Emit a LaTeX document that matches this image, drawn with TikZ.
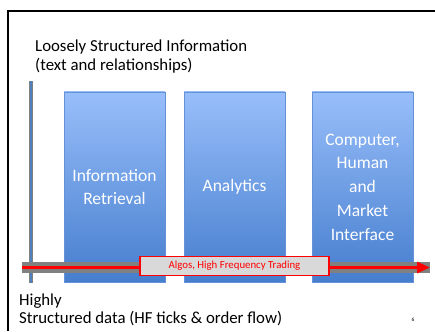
\documentclass[tikz,border=0pt]{standalone}
\usepackage{fontspec}
\setmainfont{Carlito}
\usetikzlibrary{arrows.meta}
\definecolor{boxtop}{RGB}{152,190,250}
\definecolor{boxbot}{RGB}{70,126,206}
\definecolor{boxline}{RGB}{100,145,215}
\definecolor{axisgray}{RGB}{128,128,128}
\definecolor{axisblue}{RGB}{79,129,189}
\definecolor{labelfill}{RGB}{217,217,217}
\definecolor{hfred}{RGB}{255,0,0}
\tikzset{
  areabox/.style={draw=boxline, line width=0.6pt, top color=boxtop, bottom color=boxbot,
    minimum width=101pt, minimum height=190pt, inner sep=0pt,
    text=white, align=center, font=\fontsize{17.5}{23.7}\selectfont},
  heading/.style={anchor=base west, inner sep=0pt, font=\fontsize{16.8}{20}\selectfont},
  tag/.style={draw=hfred, line width=1.8pt, fill=labelfill, text=hfred,
    minimum width=189pt, minimum height=19pt, inner sep=0pt,
    font=\fontsize{10.8}{12}\selectfont}
}
\begin{document}
\begin{tikzpicture}[x=1pt,y=-1pt]
\useasboundingbox (0,0) rectangle (435,331);
% slide frame
\draw[line width=2.2pt] (8,331) -- (8,11) -- (435,11);
% headings
\node[heading] (top1) at (35,52) {Loosely Structured Information};
\node[heading] (top2) at (35,71) {(text and relationships)};
\node[heading] (bot1) at (19,305) {Highly};
\node[heading] (bot2) at (19,323) {Structured data (HF ticks \& order flow)};
\node[anchor=base, inner sep=0pt, font=\fontsize{5.5}{6}\selectfont] (pg) at (413,321) {6};
% application areas
\node[areabox] (ir) at (114.5,187) {Information\\Retrieval};
\node[areabox] (an) at (234.5,187) {Analytics};
\node[areabox] (cm) at (362.5,187) {Computer,\\Human\\and\\Market\\Interface};
% vertical axis
\coordinate (vlo) at (31,283);
\coordinate (vhi) at (31,81);
\draw[axisgray, line width=4pt] (vlo) -- (vhi);
\draw[axisblue, line width=1.4pt, -{Triangle[length=2pt,width=4pt]}] (vlo) -- (vhi);
% horizontal axis
\coordinate (hlo) at (22,267.5);
\coordinate (hhi) at (430,267.5);
\draw[axisgray, line width=11pt] (hlo) -- (hhi);
\draw[hfred, line width=3pt, -{Triangle[length=13pt,width=11pt]}] (hlo) -- (hhi);
% label on the axis
\node[tag] (hft) at (234.5,266) {Algos, High Frequency Trading};
\end{tikzpicture}
\end{document}
